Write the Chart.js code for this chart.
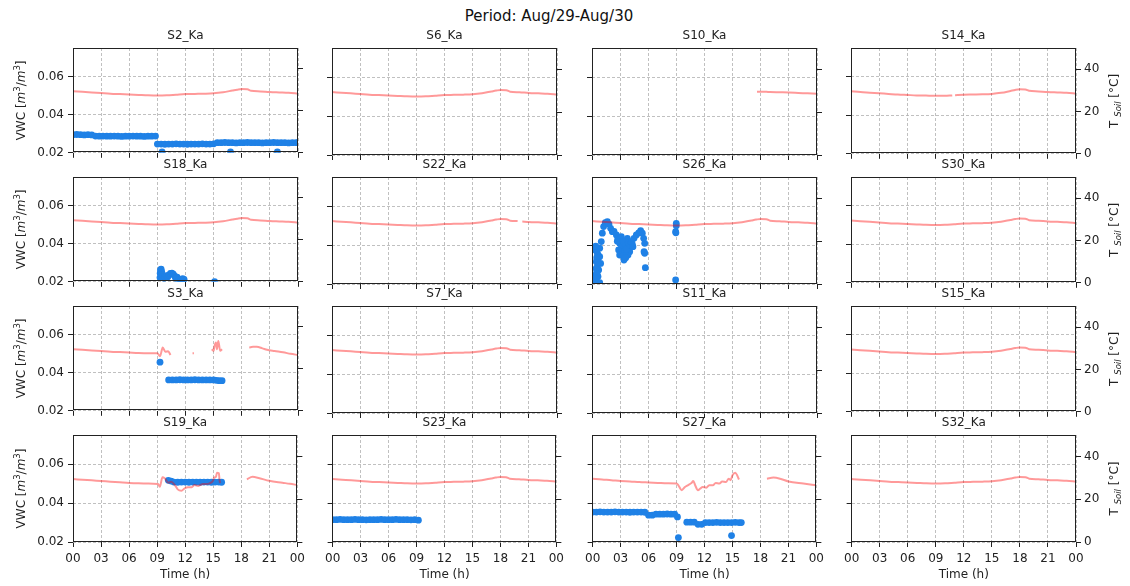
<!DOCTYPE html>
<html>
<head>
<meta charset="utf-8">
<script src="https://cdn.jsdelivr.net/npm/chart.js@4.4.1/dist/chart.umd.min.js"></script>
<style>
    html, body { margin: 0; padding: 0; background: #fff; }
    #fig { position: relative; width: 1130px; height: 586px; overflow: hidden; }
    #fig canvas { position: absolute; }
    #suptitle { position: absolute; left: 0; top: 7px; width: 1098px; text-align: center;
                font: 15px "DejaVu Sans"; color: #111; }
</style>
</head>
<body>
<div id="fig"><div id="suptitle">Period: Aug/29-Aug/30</div></div>
<script>
// ---- data (hours since 00:00 Aug/29) ----
const HOUR_TICKS = [0, 3, 6, 9, 12, 15, 18, 21, 24];
const VWC_TICKS = [0.02, 0.04, 0.06];
const TEMP_TICKS = [0, 20, 40];

// soil temperature (°C)
const TEMP_HOURS = [0,1,2,3,4,5,6,7,8,9,10,11,12,13,14,15,16,17,17.5,18,18.6,19,20,21,22,23,24];
const TEMP_TYPICAL = [29.4,29.1,28.8,28.5,28.2,28.0,27.8,27.6,27.4,27.3,27.4,27.7,28.0,28.1,28.2,28.4,28.9,29.7,30.1,30.4,30.3,29.6,29.3,29.0,28.8,28.6,28.3];

const S10_TEMP_HOURS = [17.6,18,18.6,19,20,21,22,23,24];
const S10_TEMP = [29.6,29.6,29.5,29.4,29.3,29.2,29.0,28.8,28.6];

const S14_TEMP_HOURS = [0,1,2,3,4,5,6,7,8,9,10,10.8,10.9,11.1,12,13,14,15,16,17,17.5,18,18.6,19,20,21,22,23,24];
const S14_TEMP = [29.6,29.2,28.9,28.6,28.3,28.0,27.8,27.6,27.5,27.4,27.4,27.6,null,27.7,27.9,28.0,28.1,28.3,28.8,29.7,30.2,30.5,30.4,29.8,29.5,29.2,29.0,28.8,28.5];

const S22_TEMP_HOURS = [0,1,2,3,4,5,6,7,8,9,10,11,12,13,14,15,16,17,17.5,18,18.6,19,19.8,20.0,20.3,21,22,23,24];
const S22_TEMP = [29.4,29.1,28.8,28.5,28.2,28.0,27.8,27.6,27.4,27.3,27.4,27.7,28.0,28.1,28.2,28.4,28.9,29.7,30.1,30.4,30.3,29.6,29.4,null,29.2,29.0,28.8,28.6,28.3];

const S3_TEMP_HOURS = [0,1,2,3,4,5,6,7,8,9,9.28,9.57,9.85,10.15,10.4,10.6,12.75,12.9,13.5,14.8,15.0,15.1,15.25,15.35,15.5,15.7,15.9,17,18.8,19.2,19.6,20.2,20.7,21.5,22.4,23.2,24];
const S3_TEMP = [29.4,29.1,28.8,28.5,28.2,28.0,27.8,27.6,27.5,27.4,26.0,30.2,28.2,28.4,26.6,null,27.4,27.4,null,29.4,28.6,31.0,32.6,29.4,33.3,28.6,29.4,null,30.2,30.5,30.5,29.8,29.1,28.5,27.9,27.2,26.6];

const S19_TEMP_HOURS = [0,1,2,3,4,5,6,7,8,9.1,9.28,9.57,9.8,10.2,10.5,10.9,11.2,11.6,11.95,12.3,12.7,13.0,13.4,13.9,14.3,14.6,14.97,15.1,15.3,15.4,15.6,15.7,15.8,17,18.6,19.2,19.95,21,22.4,23.2,24];
const S19_TEMP = [29.4,29.1,28.8,28.5,28.2,27.9,27.6,27.4,27.3,27.1,25.8,30.2,29.8,27.7,28.2,26.6,24.6,24.0,25.1,25.6,25.6,26.6,26.2,27.1,27.1,27.4,28.6,30.2,30.5,32.4,32.1,28.2,27.7,null,29.3,30.5,29.8,28.6,27.7,27.2,26.6];

const S27_TEMP_HOURS = [0,1,2,3,4,5,6,7,8,9,9.2,9.55,9.9,10.2,10.6,10.8,11.0,11.3,11.55,11.8,12.2,12.5,12.9,13.2,13.6,13.9,14.3,14.6,14.8,15.0,15.3,15.5,15.7,17,18.7,19.4,20.1,21,22.6,24];
const S27_TEMP = [29.6,29.2,28.9,28.5,28.3,28.0,27.8,27.6,27.4,27.3,26.5,24.2,25.7,26.5,27.6,28.5,26.5,24.2,25.0,25.7,25.4,26.5,26.5,27.6,27.3,28.3,28.0,29.6,28.9,31.2,32.4,31.2,29.2,null,29.6,30.1,29.6,28.3,27.3,26.5];

// volumetric water content (m³/m³)
const S2_VWC_HOURS = [0,0.4,0.8,1.2,1.6,2.0,2.4,2.8,3.2,3.6,4.0,4.4,4.8,5.2,5.6,6.0,6.4,6.8,7.2,7.6,8.0,8.4,8.8,
    9.0,9.4,9.8,10.2,10.6,11.0,11.4,11.8,12.2,12.6,13.0,13.4,13.8,14.2,14.6,15.0,
    15.4,15.8,16.2,16.6,17.0,17.4,17.8,18.2,18.6,19.0,19.4,19.8,20.2,20.6,21.0,21.4,21.8,22.2,22.6,23.0,23.4,23.8,24.0,
    9.5,16.8,21.8];
const S2_VWC = [0.0295,0.0296,0.0295,0.0294,0.0295,0.0294,0.0288,0.0287,0.0288,0.0287,0.0287,0.0288,0.0287,0.0286,0.0287,0.0287,0.0288,0.0287,0.0287,0.0286,0.0287,0.0287,0.0288,
    0.0246,0.0246,0.0245,0.0246,0.0246,0.0247,0.0246,0.0246,0.0245,0.0246,0.0246,0.0246,0.0247,0.0246,0.0246,0.0247,
    0.0253,0.0253,0.0254,0.0253,0.0253,0.0252,0.0253,0.0253,0.0254,0.0253,0.0253,0.0253,0.0252,0.0253,0.0253,0.0254,0.0253,0.0253,0.0253,0.0252,0.0253,0.0253,0.0253,
    0.0205,0.0205,0.0205];

const S18_VWC_HOURS = [9.28,9.3,9.33,9.4,9.45,9.5,9.6,9.7,9.8,9.95,10.1,10.25,10.4,10.55,10.7,10.85,10.95,11.1,11.3,11.5,11.7,11.85,15.1];
const S18_VWC = [0.0222,0.0245,0.0262,0.0267,0.0255,0.0238,0.0228,0.0218,0.0225,0.0232,0.0225,0.0236,0.0244,0.0246,0.0240,0.0230,0.0218,0.0224,0.0214,0.0208,0.0216,0.0212,0.0201];

const S26_VWC_HOURS = [0.28,0.46,0.36,0.57,0.46,0.64,0.36,0.82,0.82,0.92,0.71,0.64,0.82,0.25,0.50,0.40,0.55,0.50,0.60,0.45,0.55,0.40,
    0.99,1.10,1.24,1.42,1.64,1.81,1.99,2.17,2.35,2.60,2.77,2.95,2.84,2.95,
    3.13,3.31,3.48,3.13,3.31,3.41,3.66,3.77,3.91,4.02,3.84,3.55,3.00,3.20,3.40,3.60,3.50,3.70,3.90,4.10,3.30,3.60,2.70,4.30,
    4.20,4.48,4.73,4.98,5.19,5.37,5.51,5.62,5.55,5.62,5.69,4.37,
    8.99,8.99,8.92,8.95,8.92];
const S26_VWC = [0.0212,0.0221,0.0246,0.0289,0.0315,0.0349,0.0375,0.0384,0.0340,0.0306,0.0272,0.0238,0.0207,0.0203,0.0262,0.0395,0.0360,0.0335,0.0310,0.0280,0.0250,0.0230,
    0.0418,0.0461,0.0495,0.0515,0.0520,0.0508,0.0486,0.0469,0.0470,0.0452,0.0435,0.0409,0.0375,0.0349,
    0.0443,0.0418,0.0392,0.0384,0.0358,0.0323,0.0409,0.0435,0.0392,0.0366,0.0349,0.0375,0.0410,0.0400,0.0415,0.0400,0.0360,0.0380,0.0410,0.0400,0.0345,0.0335,0.0420,0.0405,
    0.0418,0.0435,0.0452,0.0463,0.0474,0.0461,0.0435,0.0409,0.0366,0.0358,0.0284,0.0392,
    0.0512,0.0499,0.0469,0.0463,0.0221];

const S3_VWC_HOURS = [9.28,10.2,10.6,11.0,11.4,11.8,12.2,12.6,13.0,13.4,13.8,14.2,14.6,15.0,15.3,15.6,15.9];
const S3_VWC = [0.0455,0.0362,0.0362,0.0362,0.0363,0.0362,0.0362,0.0362,0.0363,0.0362,0.0362,0.0362,0.0362,0.0362,0.0360,0.0358,0.0358];

const S19_VWC_HOURS = [10.2,10.5,10.8,11.2,11.6,12.0,12.4,12.8,13.2,13.6,14.0,14.4,14.8,15.2,15.6,15.9];
const S19_VWC = [0.0517,0.0513,0.0508,0.0507,0.0508,0.0508,0.0507,0.0508,0.0508,0.0507,0.0508,0.0508,0.0507,0.0508,0.0508,0.0507];

const S23_VWC_HOURS = [0,0.4,0.8,1.2,1.6,2.0,2.4,2.8,3.2,3.6,4.0,4.4,4.8,5.2,5.6,6.0,6.4,6.8,7.2,7.6,8.0,8.4,8.8,9.2];
const S23_VWC = [0.0315,0.0315,0.0316,0.0315,0.0315,0.0315,0.0316,0.0315,0.0315,0.0314,0.0315,0.0315,0.0315,0.0316,0.0315,0.0315,0.0315,0.0316,0.0315,0.0315,0.0315,0.0314,0.0315,0.0312];

const S27_VWC_HOURS = [0,0.4,0.8,1.2,1.6,2.0,2.4,2.8,3.2,3.6,4.0,4.4,4.8,5.2,5.6,6.0,6.4,6.8,7.2,7.6,8.0,8.4,8.8,9.1,9.2,
    10.1,10.5,10.9,11.3,11.7,12.1,12.5,12.9,13.3,13.7,14.1,14.5,14.9,15.3,15.7,15.95,14.9];
const S27_VWC = [0.0354,0.0354,0.0355,0.0354,0.0354,0.0354,0.0355,0.0354,0.0354,0.0354,0.0353,0.0354,0.0354,0.0354,0.0353,0.0338,0.0338,0.0343,0.0343,0.0343,0.0344,0.0343,0.0343,0.0329,0.0223,
    0.0302,0.0302,0.0302,0.0291,0.0291,0.0300,0.0300,0.0300,0.0301,0.0300,0.0300,0.0300,0.0300,0.0301,0.0300,0.0300,0.0233];

// panel name, temperature hours, temperature, VWC hours, VWC   (row-major, 4 columns)
const PANELS = [
    ['S2_Ka',  TEMP_HOURS, TEMP_TYPICAL, S2_VWC_HOURS, S2_VWC],
    ['S6_Ka',  TEMP_HOURS, TEMP_TYPICAL, null, null],
    ['S10_Ka', S10_TEMP_HOURS, S10_TEMP, null, null],
    ['S14_Ka', S14_TEMP_HOURS, S14_TEMP, null, null],
    ['S18_Ka', TEMP_HOURS, TEMP_TYPICAL, S18_VWC_HOURS, S18_VWC],
    ['S22_Ka', S22_TEMP_HOURS, S22_TEMP, null, null],
    ['S26_Ka', TEMP_HOURS, TEMP_TYPICAL, S26_VWC_HOURS, S26_VWC],
    ['S30_Ka', TEMP_HOURS, TEMP_TYPICAL, null, null],
    ['S3_Ka',  S3_TEMP_HOURS, S3_TEMP, S3_VWC_HOURS, S3_VWC],
    ['S7_Ka',  TEMP_HOURS, TEMP_TYPICAL, null, null],
    ['S11_Ka', null, null, null, null],
    ['S15_Ka', TEMP_HOURS, TEMP_TYPICAL, null, null],
    ['S19_Ka', S19_TEMP_HOURS, S19_TEMP, S19_VWC_HOURS, S19_VWC],
    ['S23_Ka', TEMP_HOURS, TEMP_TYPICAL, S23_VWC_HOURS, S23_VWC],
    ['S27_Ka', S27_TEMP_HOURS, S27_TEMP, S27_VWC_HOURS, S27_VWC],
    ['S32_Ka', TEMP_HOURS, TEMP_TYPICAL, null, null]
];

// ---- layout & style ----
const COL_LEFT = [73, 332, 592, 851];
const ROW_TOP = [48, 177, 306, 435];
const PLOT_W = 225;
const PLOT_H = 107;
const DOT_COLOR = 'rgb(31, 129, 230)';
const LINE_COLOR = 'rgba(255, 0, 0, 0.4)';
const GRID_COLOR = '#b0b0b0';
const AXIS_COLOR = '#222';
const FONT = '"DejaVu Sans"';

Chart.defaults.font.family = 'DejaVu Sans';
Chart.defaults.color = '#222';

function drawRotated(ctx, x, y, parts) {
    ctx.save();
    ctx.translate(x, y);
    ctx.rotate(-Math.PI / 2);
    ctx.textAlign = 'left';
    ctx.textBaseline = 'alphabetic';
    ctx.fillStyle = '#222';
    const fontOf = p => (p.italic ? 'italic ' : '') + (p.size || 12) + 'px ' + FONT;
    let total = 0;
    const widths = parts.map(p => {
        ctx.font = fontOf(p);
        const w = ctx.measureText(p.text).width;
        total += w;
        return w;
    });
    let cx = -total / 2;
    parts.forEach((p, i) => {
        ctx.font = fontOf(p);
        ctx.fillText(p.text, cx, 4 + (p.dy || 0));
        cx += widths[i];
    });
    ctx.restore();
}

const VWC_TITLE = [
    {text: 'VWC ['}, {text: 'm', italic: true}, {text: '3', size: 8.5, dy: -5},
    {text: '/'}, {text: 'm', italic: true}, {text: '3', size: 8.5, dy: -5}, {text: ']'}
];
const TEMP_TITLE = [
    {text: 'T '}, {text: 'Soil', italic: true, size: 8.5, dy: 3}, {text: ' [°C]'}
];

function panelDecor(name, row, col) {
    return {
        id: 'panelDecor',
        afterDraw(chart) {
            const ctx = chart.ctx;
            const a = chart.chartArea;
            ctx.save();
            ctx.strokeStyle = AXIS_COLOR;
            ctx.lineWidth = 1;
            const l = Math.floor(a.left) + 0.5, t = Math.floor(a.top) + 0.5;
            const r = Math.floor(a.right) - 0.5, b = Math.floor(a.bottom) - 0.5;
            ctx.strokeRect(l, t, r - l, b - t);

            ctx.fillStyle = '#222';
            ctx.font = '12px ' + FONT;
            ctx.textAlign = 'center';
            ctx.textBaseline = 'middle';
            const cx = (a.left + a.right) / 2;
            ctx.fillText(name, cx, a.top - 12);
            if (row === 3) ctx.fillText('Time (h)', cx, a.bottom + 33);
            ctx.restore();

            const cy = (a.top + a.bottom) / 2;
            if (col === 0) drawRotated(ctx, 21, cy, VWC_TITLE);
            if (col === 3) drawRotated(ctx, a.right + 38, cy, TEMP_TITLE);
        }
    };
}

function fixedTicks(values) {
    return scale => { scale.ticks = values.map(v => ({value: v})); };
}

function makePanel(idx) {
    const [name, tHours, temps, vHours, vwc] = PANELS[idx];
    const row = Math.floor(idx / 4), col = idx % 4;
    const lp = col === 0 ? 73 : 12;
    const rp = col === 3 ? 53 : 12;
    const tp = 26;
    const bp = row === 3 ? 44 : 9;

    const canvas = document.createElement('canvas');
    canvas.width = lp + PLOT_W + rp;
    canvas.height = tp + PLOT_H + bp;
    canvas.style.left = (COL_LEFT[col] - lp) + 'px';
    canvas.style.top = (ROW_TOP[row] - tp) + 'px';
    document.getElementById('fig').appendChild(canvas);

    const datasets = [];
    if (tHours) {
        datasets.push({
            type: 'line',
            data: tHours.map((h, i) => ({x: h, y: temps[i]})),
            yAxisID: 'yT',
            borderColor: LINE_COLOR,
            borderWidth: 2,
            pointRadius: 0,
            spanGaps: false,
            cubicInterpolationMode: 'monotone',
            clip: 0,
            order: 0
        });
    }
    if (vHours) {
        datasets.push({
            type: 'scatter',
            data: vHours.map((h, i) => ({x: h, y: vwc[i]})),
            yAxisID: 'yV',
            backgroundColor: DOT_COLOR,
            pointRadius: 3.4,
            borderWidth: 0,
            clip: 0,
            order: 1
        });
    }

    const tickFont = {family: 'DejaVu Sans', size: 12};
    const grid = {color: GRID_COLOR, lineWidth: 0.8, tickLength: 5, tickColor: AXIS_COLOR, tickWidth: 1};

    new Chart(canvas, {
        type: 'scatter',
        data: {datasets},
        options: {
            responsive: false,
            animation: false,
            devicePixelRatio: 1,
            events: [],
            layout: {padding: {top: tp, left: 0, right: 0, bottom: 0}},
            plugins: {legend: {display: false}, tooltip: {enabled: false}, title: {display: false}},
            scales: {
                x: {
                    type: 'linear', position: 'bottom', min: 0, max: 24,
                    afterBuildTicks: fixedTicks(HOUR_TICKS),
                    afterFit: s => { s.height = bp; },
                    ticks: {display: row === 3, font: tickFont, color: '#222', padding: 5, maxRotation: 0, autoSkip: false,
                            callback: v => String(v % 24).padStart(2, '0')},
                    grid: grid,
                    border: {display: false, dash: [3, 2]}
                },
                yV: {
                    type: 'linear', position: 'left', min: 0.02, max: 0.075,
                    afterBuildTicks: fixedTicks(VWC_TICKS),
                    afterFit: s => { s.width = lp; },
                    ticks: {display: col === 0, font: tickFont, color: '#222', padding: 4, callback: v => v.toFixed(2)},
                    grid: grid,
                    border: {display: false, dash: [3, 2]}
                },
                yT: {
                    type: 'linear', position: 'right', min: 0, max: 50,
                    afterBuildTicks: fixedTicks(TEMP_TICKS),
                    afterFit: s => { s.width = rp; },
                    ticks: {display: col === 3, font: tickFont, color: '#222', padding: 3, callback: v => String(v)},
                    grid: {drawOnChartArea: false, color: AXIS_COLOR, tickLength: 5, tickColor: AXIS_COLOR, tickWidth: 1},
                    border: {display: false}
                }
            }
        },
        plugins: [panelDecor(name, row, col)]
    });
}

PANELS.forEach((p, i) => makePanel(i));
</script>
</body>
</html>
